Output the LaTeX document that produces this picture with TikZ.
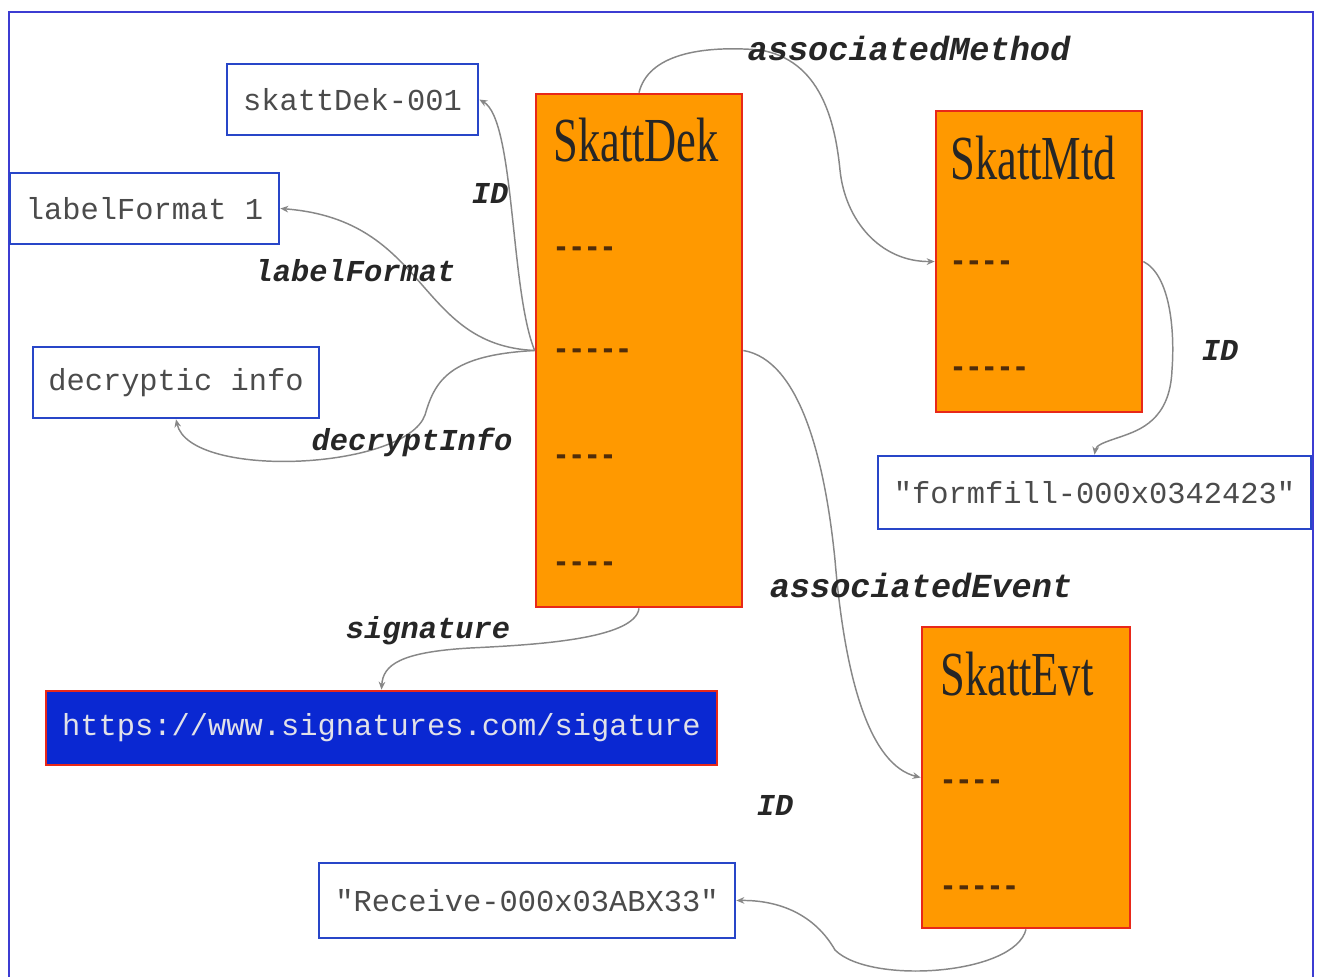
\documentclass[tikz,border=0pt]{standalone}
\usepackage{fontspec}
\usepackage{graphicx}
\usetikzlibrary{arrows.meta}
\newfontfamily\monof{Liberation Mono}
\newfontfamily\dashf[FakeBold=3]{Liberation Mono Bold}
\newfontfamily\serff{Liberation Serif}
\definecolor{boxorange}{RGB}{255,153,0}
\definecolor{boxred}{RGB}{232,40,25}
\definecolor{lineblue}{RGB}{40,70,200}
\definecolor{frameblue}{RGB}{60,60,210}
\definecolor{sigblue}{RGB}{10,40,210}
\definecolor{valgray}{RGB}{75,75,75}
\definecolor{siggray}{RGB}{225,225,232}
\definecolor{conngray}{RGB}{135,135,135}
\definecolor{dashbrown}{RGB}{80,45,10}
\tikzset{
  classbox/.style={draw=boxred, fill=boxorange, line width=2pt, inner sep=0pt},
  valbox/.style={draw=lineblue, fill=white, line width=2pt, inner sep=0pt,
    text=valgray, font=\monof\fontsize{22.8}{24}\selectfont},
  sigbox/.style={draw=boxred, fill=sigblue, line width=2pt, inner sep=0pt,
    text=siggray, font=\monof\fontsize{22.8}{24}\selectfont},
  classtitle/.style={anchor=west, inner sep=0pt, text=black!85,
    font=\serff\fontsize{47}{47}\selectfont},
  fieldtxt/.style={anchor=west, inner sep=0pt, text=dashbrown,
    font=\dashf\fontsize{19.5}{20}\selectfont},
  rel/.style={inner sep=0pt, text=black!85,
    font=\monof\bfseries\itshape\fontsize{22.8}{24}\selectfont},
  relbig/.style={inner sep=0pt, text=black!85,
    font=\monof\bfseries\itshape\fontsize{25.2}{26}\selectfont},
  conn/.style={draw=conngray, line width=1.1pt, -{Stealth[length=6pt,width=5pt]}},
}
\newcommand\ttl[1]{\scalebox{0.71}[1]{#1}}
\begin{document}
\begin{tikzpicture}[x=0.75pt,y=-0.75pt]
\clip (0,0) rectangle (1318,976);
\useasboundingbox (0,0) rectangle (1318,976);
\draw[frameblue, line width=2pt] (9,12) rectangle (1313,1010);

% class boxes
\node[classbox, minimum width=154.5pt, minimum height=384.75pt] (dek) at (639,350.5) {};
\node[classbox, minimum width=154.5pt, minimum height=225.75pt] (mtd) at (1039,261.5) {};
\node[classbox, minimum width=156pt, minimum height=225.75pt] (evt) at (1026,777.5) {};

\node[classtitle] (dekT) at (553,140) {\ttl{SkattDek}};
\node[fieldtxt] (dekF1) at (553,251) {-{}-{}-{}-};
\node[fieldtxt] (dekF2) at (553,353) {-{}-{}-{}-{}-};
\node[fieldtxt] (dekF3) at (553,459) {-{}-{}-{}-};
\node[fieldtxt] (dekF4) at (553,566) {-{}-{}-{}-};

\node[classtitle] (mtdT) at (950,158) {\ttl{SkattMtd}};
\node[fieldtxt] (mtdF1) at (950,265) {-{}-{}-{}-};
\node[fieldtxt] (mtdF2) at (950,371) {-{}-{}-{}-{}-};

\node[classtitle] (evtT) at (940,674) {\ttl{SkattEvt}};
\node[fieldtxt] (evtF1) at (940,784) {-{}-{}-{}-};
\node[fieldtxt] (evtF2) at (940,890) {-{}-{}-{}-{}-};

% value boxes
\node[valbox, minimum width=188.25pt, minimum height=53.25pt] (id001) at (352.5,99.5) {skattDek-001};
\node[valbox, minimum width=201.75pt, minimum height=53.25pt] (lf) at (144.5,208.5) {labelFormat 1};
\node[valbox, minimum width=214.5pt, minimum height=53.25pt] (dec) at (176,382.5) {decryptic info};
\node[valbox, minimum width=324.75pt, minimum height=54.75pt] (ff) at (1094.5,492.5) {"formfill-000x0342423"};
\node[sigbox, minimum width=503.25pt, minimum height=55.5pt] (sig) at (381.5,728) {https://www.signatures.com/sigature};
\node[valbox, minimum width=312pt, minimum height=56.25pt] (rcv) at (527,900.5) {"Receive-000x03ABX33"};

% connectors
\draw[conn] (dek.north) .. controls (648,55) and (700,45) .. (760,50)
  .. controls (820,60) and (835,120) .. (840,170)
  .. controls (845,220) and (880,262) .. (mtd.west);
\draw[conn] (dek.west) .. controls (510,290) and (515,120) .. (id001.east);
\draw[conn] (dek.west) .. controls (415,345) and (430,220) .. (lf.east);
\draw[conn] (dek.west) .. controls (450,355) and (435,380) .. (425,415)
  .. controls (405,470) and (190,480) .. (dec.south);
\draw[conn] (dek.south) .. controls (635,640) and (530,645) .. (470,648)
  .. controls (400,652) and (383,665) .. (sig.north);
\draw[conn] (dek.east) .. controls (800,360) and (825,460) .. (835,560)
  .. controls (845,680) and (870,765) .. (evt.west);
\draw[conn] (mtd.east) .. controls (1170,275) and (1175,330) .. (1172,370)
  .. controls (1170,420) and (1140,430) .. (1120,437)
  .. controls (1105,442) and (1096,445) .. (ff.north);
\draw[conn] (evt.south) .. controls (1015,975) and (870,985) .. (835,950)
  .. controls (815,915) and (780,900) .. (rcv.east);

% relation labels
\node[relbig] (lblMethod) at (909,48) {associatedMethod};
\node[rel] (lblID1) at (490,193) {ID};
\node[rel] (lblLF) at (355,271) {labelFormat};
\node[rel] (lblDec) at (412,442) {decryptInfo};
\node[rel] (lblSig) at (428,631) {signature};
\node[relbig] (lblEvent) at (921,585) {associatedEvent};
\node[rel] (lblID2) at (1220,350) {ID};
\node[rel] (lblID3) at (775,805) {ID};
\end{tikzpicture}
\end{document}
